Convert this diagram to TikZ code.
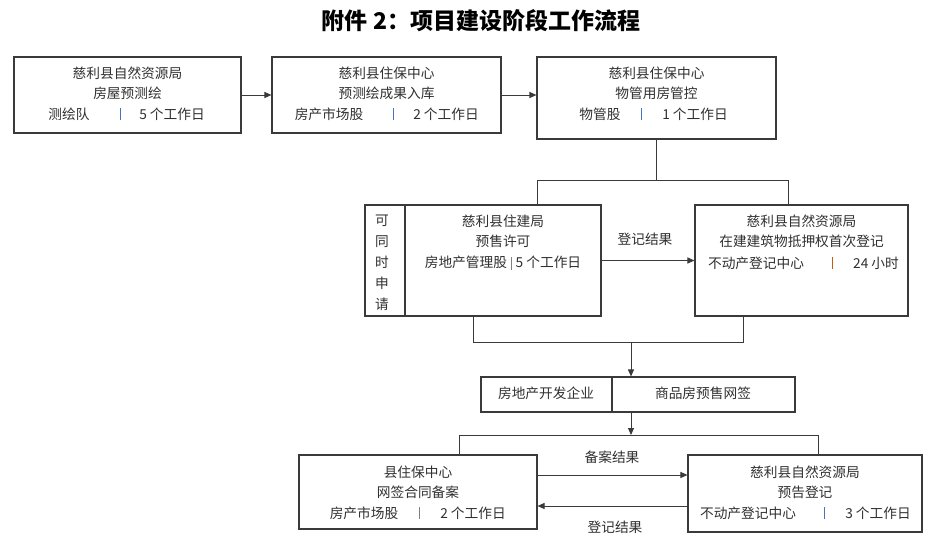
\documentclass[tikz,border=0pt]{standalone}
\usepackage{fontspec}
\setmainfont{Noto Sans CJK SC}
\usetikzlibrary{arrows.meta}
\definecolor{txt}{HTML}{303030}
\definecolor{lin}{HTML}{3A3A3A}
\definecolor{sepblue}{HTML}{4472C4}
\definecolor{sepgray}{HTML}{808080}
\definecolor{seporange}{HTML}{C55A11}
\tikzset{
  box/.style={draw=lin, line width=1.1pt, rectangle, inner sep=0pt},
  conn/.style={draw=lin, line width=1pt},
  arr/.style={conn, -{Triangle[length=7pt,width=6pt]}},
  lbl/.style={text=txt, font=\fontsize{13.7}{16}\selectfont, inner sep=0pt},
  sepbar/.style={fill=#1, minimum width=0.9pt, minimum height=12pt, inner sep=0pt},
}
\newcommand{\vbar}[1]{{\color{#1}\rule[-0.12em]{0.7pt}{0.95em}}}
\begin{document}
\begin{tikzpicture}[x=1pt,y=-1pt]
\useasboundingbox[fill=white] (0,0) rectangle (934,551);
% title
\node[text=black, font=\fontsize{23}{26}\selectfont\bfseries, inner sep=0pt] (title) at (481,21) {附件 2：项目建设阶段工作流程};
% boxes
\node[box, minimum width=227pt, minimum height=76pt] (b1) at (127.5,95) {};
\node[box, minimum width=229pt, minimum height=76pt] (b2) at (386.5,95) {};
\node[box, minimum width=239pt, minimum height=82pt] (b3) at (656.5,98) {};
\node[box, minimum width=236pt, minimum height=111pt] (b4) at (483,260.5) {};
\node[box, minimum width=213pt, minimum height=111pt] (b5) at (801.5,260.5) {};
\node[box, minimum width=314pt, minimum height=35pt] (b6) at (638,394.5) {};
\node[box, minimum width=238pt, minimum height=74pt] (b7) at (418,492) {};
\node[box, minimum width=234pt, minimum height=77pt] (b8) at (805,493.5) {};
% dividers
\coordinate (d4) at (405,0);
\coordinate (d6) at (612,0);
\draw[conn, line width=1.1pt] (d4|-b4.north) -- (d4|-b4.south);
\draw[conn, line width=1.1pt] (d6|-b6.north) -- (d6|-b6.south);
% box 1 text
\node[lbl] (t11) at (127.5,73) {慈利县自然资源局};
\node[lbl] (t12) at (127.5,93) {房屋预测绘};
\node[lbl] (t13) at (69,114) {测绘队};
\node[sepbar=sepblue] (s1) at (120,114) {};
\node[lbl] (t14) at (172,114) {5 个工作日};
% box 2 text
\node[lbl] (t21) at (386.5,73) {慈利县住保中心};
\node[lbl] (t22) at (386.5,93) {预测绘成果入库};
\node[lbl] (t23) at (329,114) {房产市场股};
\node[sepbar=sepblue] (s2) at (393,114) {};
\node[lbl] (t24) at (446,114) {2 个工作日};
% box 3 text
\node[lbl] (t31) at (656.5,73) {慈利县住保中心};
\node[lbl] (t32) at (656.5,93) {物管用房管控};
\node[lbl] (t33) at (600,114) {物管股};
\node[sepbar=sepblue] (s3) at (641,114) {};
\node[lbl] (t34) at (695,114) {1 个工作日};
% box 4 text
\node[lbl, align=center, font=\fontsize{13.7}{21}\selectfont] (t40) at (382,263) {可\\同\\时\\申\\请};
\node[lbl] (t41) at (503,221) {慈利县住建局};
\node[lbl] (t42) at (503,241) {预售许可};
\node[lbl] (t43) at (503,263) {房地产管理股\hspace{4pt}\vbar{sepgray}\hspace{4pt}5 个工作日};
% box 5 text
\node[lbl] (t51) at (801.5,221) {慈利县自然资源局};
\node[lbl] (t52) at (801.5,241) {在建建筑物抵押权首次登记};
\node[lbl] (t53) at (756,263) {不动产登记中心};
\node[sepbar=seporange] (s5) at (832,263) {};
\node[lbl] (t54) at (876,263) {24 小时};
% box 6 text
\node[lbl] (t61) at (546,393) {房地产开发企业};
\node[lbl] (t62) at (703,393) {商品房预售网签};
% box 7 text
\node[lbl] (t71) at (418,472) {县住保中心};
\node[lbl] (t72) at (418,492) {网签合同备案};
\node[lbl] (t73) at (364,513) {房产市场股};
\node[sepbar=sepgray] (s7) at (419,513) {};
\node[lbl] (t74) at (473,513) {2 个工作日};
% box 8 text
\node[lbl] (t81) at (805,472) {慈利县自然资源局};
\node[lbl] (t82) at (805,492) {预告登记};
\node[lbl] (t83) at (748,513) {不动产登记中心};
\node[sepbar=sepblue] (s8) at (824,513) {};
\node[lbl] (t84) at (878,513) {3 个工作日};
% connectors
\draw[arr] (b1.east) -- (b2.west);
\draw[arr] (b2.east) -- (b2.east-|b3.west);
\coordinate (jL1) at (537,180);
\coordinate (jR1) at (788,180);
\draw[conn] (b3.south) -- (b3.south|-jL1);
\draw[conn] (jL1|-b4.north) -- (jL1) -- (jR1) -- (jR1|-b5.north);
\draw[arr] (b4.east) -- (b5.west);
\node[lbl] (l1) at (645,239) {登记结果};
\coordinate (jL2) at (473,342);
\coordinate (jR2) at (743,342);
\coordinate (jM2) at (631,342);
\draw[conn] (jL2|-b4.south) -- (jL2) -- (jR2) -- (jR2|-b5.south);
\draw[arr] (jM2) -- (jM2|-b6.north);
\coordinate (jM3) at (631,435);
\coordinate (jL3) at (459,435);
\coordinate (jR3) at (818,435);
\draw[arr] (jM3|-b6.south) -- (jM3);
\draw[conn] (jL3|-b7.north) -- (jL3) -- (jR3) -- (jR3|-b8.north);
\coordinate (cA) at (0,475);
\coordinate (cB) at (0,506);
\draw[arr] (b7.east|-cA) -- (b8.west|-cA);
\draw[arr] (b8.west|-cB) -- (b7.east|-cB);
\node[lbl] (l2) at (612,457) {备案结果};
\node[lbl] (l3) at (615,527) {登记结果};
\end{tikzpicture}
\end{document}
